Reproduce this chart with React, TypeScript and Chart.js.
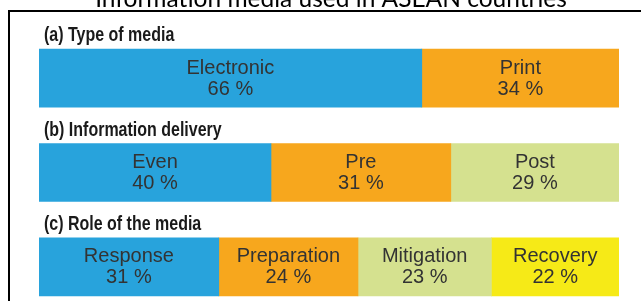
import React, { useEffect, useRef } from 'react';
import { Chart, registerables } from 'chart.js';

Chart.register(...registerables);

const chartTitle = 'Information media used in ASEAN countries';
const panelTitles = ['(a) Type of media', '(b) Information delivery', '(c) Role of the media'];

const seg1Names = ['Electronic', 'Even', 'Response'];
const seg1Values = [66, 40, 31];
const seg2Names = ['Print', 'Pre', 'Preparation'];
const seg2Values = [34, 31, 24];
const seg3Names = ['', 'Post', 'Mitigation'];
const seg3Values: (number | null)[] = [null, 29, 23];
const seg4Names = ['', '', 'Recovery'];
const seg4Values: (number | null)[] = [null, null, 22];

const segNames = [seg1Names, seg2Names, seg3Names, seg4Names];
const segValues = [seg1Values, seg2Values, seg3Values, seg4Values];
const segColors = ['#28A3DC', '#F7A71D', '#D5E18F', '#F6EA17'];

const BAR_THICKNESS = 58;

const decorPlugin = {
  id: 'decor',
  beforeDraw(chart: any) {
    const ctx = chart.ctx;
    ctx.save();
    ctx.fillStyle = '#ffffff';
    ctx.fillRect(0, 0, chart.width, chart.height);
    // frame
    ctx.strokeStyle = '#000000';
    ctx.lineWidth = 2;
    ctx.beginPath();
    ctx.moveTo(9, chart.height);
    ctx.lineTo(9, 11);
    ctx.lineTo(chart.width, 11);
    ctx.stroke();
    // top title (cut off at the top of the picture)
    ctx.fillStyle = '#000000';
    ctx.font = '24.5px Lato, "Open Sans", sans-serif';
    ctx.textAlign = 'center';
    ctx.textBaseline = 'alphabetic';
    ctx.fillText(chartTitle, 331, 7);
    ctx.restore();
  },
  afterDatasetsDraw(chart: any) {
    const ctx = chart.ctx;
    const area = chart.chartArea;
    const yScale = chart.scales.y;
    ctx.save();
    // panel titles (condensed bold)
    ctx.fillStyle = '#1a1a1a';
    ctx.font = 'bold 20.5px "Liberation Sans", Arial, sans-serif';
    ctx.textAlign = 'left';
    ctx.textBaseline = 'alphabetic';
    panelTitles.forEach((t, i) => {
      const yc = yScale.getPixelForValue(i);
      ctx.save();
      ctx.translate(area.left + 5, yc - BAR_THICKNESS / 2 - 8);
      ctx.scale(0.78, 1);
      ctx.fillText(t, 0, 0);
      ctx.restore();
    });
    // segment labels
    ctx.fillStyle = '#333333';
    ctx.font = '20px "Liberation Sans", Arial, sans-serif';
    ctx.textAlign = 'center';
    ctx.textBaseline = 'middle';
    chart.data.datasets.forEach((ds: any, di: number) => {
      const meta = chart.getDatasetMeta(di);
      meta.data.forEach((el: any, i: number) => {
        const v = ds.data[i];
        if (v === null || v === undefined) return;
        const cx = (el.x + el.base) / 2;
        const cy = el.y;
        ctx.fillText(segNames[di][i], cx, cy - 10);
        ctx.fillText(v + ' %', cx, cy + 11);
      });
    });
    ctx.restore();
  },
};

export default function App() {
  const ref = useRef<HTMLCanvasElement | null>(null);
  useEffect(() => {
    document.body.style.margin = '0';
    if (!ref.current) return;
    const chart = new Chart(ref.current, {
      type: 'bar',
      data: {
        labels: panelTitles,
        datasets: segValues.map((vals, i) => ({
          label: 'segment ' + (i + 1),
          data: vals,
          backgroundColor: segColors[i],
          borderWidth: 0,
          barThickness: BAR_THICKNESS,
        })),
      },
      options: {
        indexAxis: 'y',
        responsive: false,
        animation: false,
        devicePixelRatio: 1,
        layout: { padding: { left: 39, right: 22, top: 31, bottom: 6 } },
        scales: {
          x: { stacked: true, min: 0, max: 100, display: false },
          y: { stacked: true, display: false },
        },
        plugins: {
          legend: { display: false },
          tooltip: { enabled: false },
          title: { display: false },
        },
      },
      plugins: [decorPlugin],
    } as any);
    return () => chart.destroy();
  }, []);
  return (
    <div style={{ width: 641, height: 301, overflow: 'hidden', position: 'relative' }}>
      <canvas ref={ref} width={641} height={320} style={{ display: 'block' }} />
    </div>
  );
}
